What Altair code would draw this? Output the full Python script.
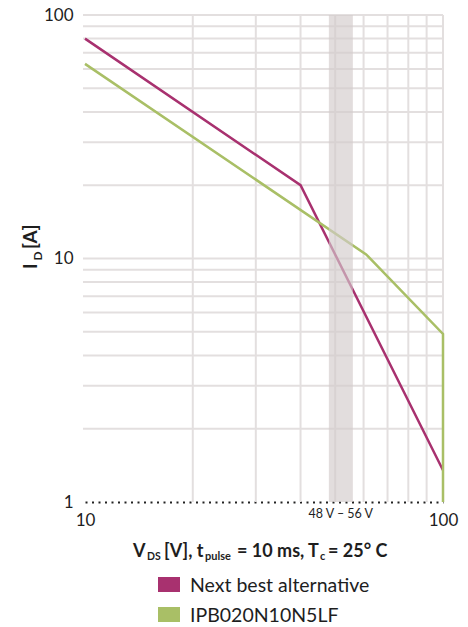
import altair as alt
import pandas as pd

# ---- data ----
series_names = ["Next best alternative", "IPB020N10N5LF"]
series_colors = ["#a8316f", "#a9bf66"]

next_v = [10, 40, 100]
next_i = [80, 20, 1.35]
ipb_v = [10, 61, 100, 100]
ipb_i = [63, 10.4, 4.9, 1]

x_ticks = [10, 100]
y_ticks = [1, 10, 100]
x_grid = [20, 30, 40, 50, 60, 70, 80, 90, 100]
y_grid = [2, 3, 4, 5, 6, 7, 8, 9, 10, 20, 30, 40, 50, 60, 70, 80, 90, 100]

band_lo = [48]
band_hi = [56]
band_label_pos = [51.8]
band_label = ["48 V – 56 V"]

# ---- layout ----
W, H = 358, 487
FONT = "Lato"
TXT = "#1e1e1e"
GRID = "#e3dfdf"

xs = alt.Scale(type="log", domain=[10, 100], nice=False)
ys = alt.Scale(type="log", domain=[1, 100], nice=False)

X_AXIS = alt.Axis(
    values=x_ticks, title=None, grid=False, ticks=False, tickSize=0,
    domain=True, domainDash=[2, 4.5], domainColor="#222", domainWidth=2,
    labelFont=FONT, labelFontSize=17, labelColor=TXT, labelPadding=10,
    labelFlush=False, labelOverlap=False)
Y_AXIS = alt.Axis(
    values=y_ticks, title=None, grid=False, ticks=False, tickSize=0,
    domain=False, labelFont=FONT, labelFontSize=17, labelColor=TXT,
    labelPadding=12, labelFlush=False, labelOverlap=False)

rows = []
for k, (v, i) in enumerate(zip(next_v, next_i)):
    rows.append({"V": v, "I": i, "series": series_names[0], "idx": k})
for k, (v, i) in enumerate(zip(ipb_v, ipb_i)):
    rows.append({"V": v, "I": i, "series": series_names[1], "idx": k})
lines_df = pd.DataFrame(rows)

grid_x = alt.Chart(pd.DataFrame({"V": x_grid})).mark_rule(color=GRID, strokeWidth=2).encode(
    x=alt.X("V:Q", scale=xs, axis=X_AXIS), y=alt.value(0), y2=alt.value(H)
)
grid_y = alt.Chart(pd.DataFrame({"I": y_grid})).mark_rule(color=GRID, strokeWidth=2).encode(
    y=alt.Y("I:Q", scale=ys, axis=Y_AXIS), x=alt.value(-2), x2=alt.value(W)
)

lines = alt.Chart(lines_df).mark_line(strokeWidth=2.5).encode(
    x=alt.X("V:Q", scale=xs, axis=X_AXIS),
    y=alt.Y("I:Q", scale=ys, axis=Y_AXIS),
    color=alt.Color("series:N", scale=alt.Scale(domain=series_names, range=series_colors),
                    legend=None),
    order="idx:Q",
)

band = alt.Chart(pd.DataFrame({"V": band_lo, "hi": band_hi})).mark_rect(
    color="#d2cbcb", opacity=0.65
).encode(
    x=alt.X("V:Q", scale=xs, axis=X_AXIS), x2="hi:Q", y=alt.value(0), y2=alt.value(H)
)

band_text = alt.Chart(pd.DataFrame({"V": band_label_pos, "t": band_label})).mark_text(
    font=FONT, fontSize=12.5, color=TXT, baseline="alphabetic", align="center"
).encode(
    x=alt.X("V:Q", scale=xs, axis=X_AXIS), y=alt.value(H + 16), text="t:N"
)

one = pd.DataFrame({"a": [0]})


def piece(txt, x, y, size, angle=0, weight="bold"):
    kw = dict(font=FONT, fontSize=size, fontWeight=weight, color=TXT,
              align="left", baseline="alphabetic")
    if angle:
        kw["angle"] = angle
    return alt.Chart(one).mark_text(**kw).encode(
        x=alt.value(x), y=alt.value(y), text=alt.value(txt)
    )


titles = [
    piece("V", 48, 542, 18),
    piece("DS", 62, 545, 10.5),
    piece("[V], t", 79, 542, 18),
    piece("pulse", 120, 545, 11),
    piece("= 10 ms, T", 152, 542, 18),
    piece("c", 235, 545, 11),
    piece("= 25° C", 243, 542, 18),
    piece("I", -48, 254, 19, 270),
    piece("D", -43, 245.5, 12, 270),
    piece("[A]", -48, 234, 19, 270),
]

# legend (swatch + label per series)
legend_layers = []
for k, (name, col) in enumerate(zip(series_names, series_colors)):
    y0 = 562 + 30 * k
    legend_layers.append(
        alt.Chart(one).mark_rect(color=col).encode(
            x=alt.value(73), x2=alt.value(95), y=alt.value(y0), y2=alt.value(y0 + 15)
        )
    )
    legend_layers.append(piece(name, 105, y0 + 15, 19.5, weight="normal"))

chart = alt.layer(grid_x, grid_y, lines, band, band_text, *titles, *legend_layers).properties(
    width=W, height=H,
    autosize=alt.AutoSizeParams(type="none"),
    padding={"left": 77, "top": 7, "right": 17, "bottom": 124},
).configure_view(stroke=None)

chart.save("out.html", embed_options={"renderer": "svg", "actions": False})
